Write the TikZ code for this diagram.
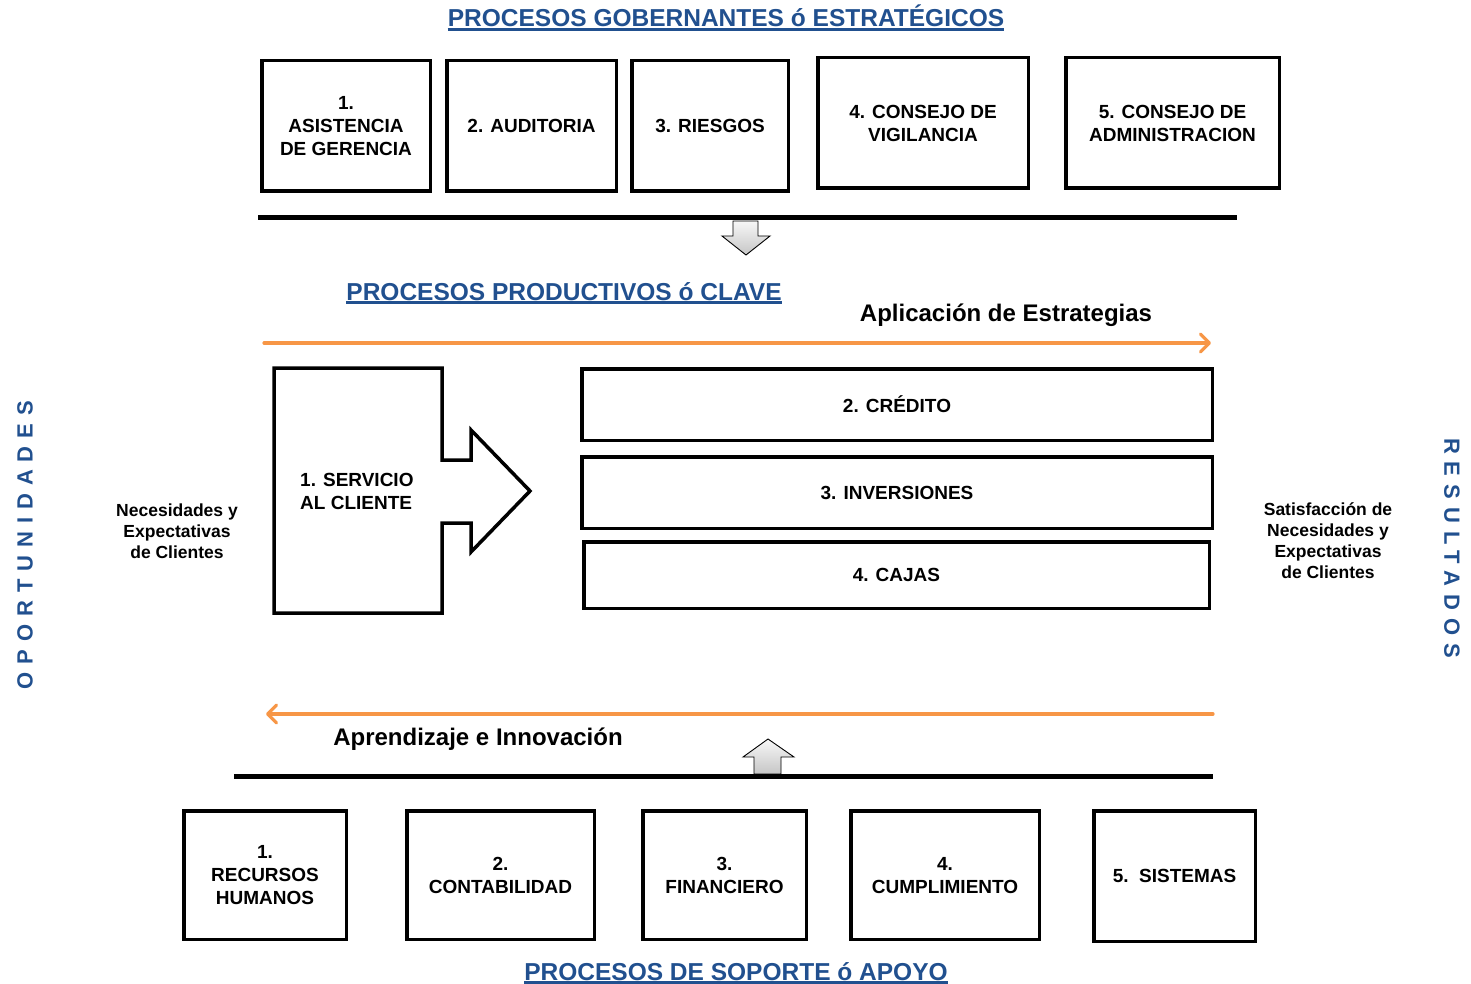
\documentclass[tikz,border=0pt]{standalone}
\usepackage{fontspec}
\setmainfont{Liberation Sans}
\usetikzlibrary{arrows.meta}
\definecolor{titleblue}{HTML}{21508F}
\definecolor{flow}{HTML}{F79646}

\begin{document}
\begin{tikzpicture}[x=1pt,y=-1pt,
  box/.style={draw, line width=3.5pt, align=center, inner sep=0pt, text depth=0pt,
    font=\fontsize{19}{23}\selectfont\bfseries},
  title/.style={text=titleblue, inner sep=0pt, anchor=base,
    font=\fontsize{24.5}{28}\selectfont\bfseries},
  titleline/.style={draw=titleblue, line width=2.6pt},
  note/.style={align=center, inner sep=0pt,
    font=\fontsize{17.5}{21}\selectfont\bfseries},
  flowlabel/.style={inner sep=0pt, anchor=base,
    font=\fontsize{24}{28}\selectfont\bfseries},
  flowarrow/.style={draw=flow, line width=3.2pt, line cap=round,
    -{Straight Barb[length=9pt,width=18pt,line join=round,line cap=round]}},
  bar/.style={line width=5pt},
  blockarrow/.style={draw=black, line width=0.9pt, line join=miter,
    top color=gray!6, bottom color=gray!45},
  side/.style={text=titleblue, inner sep=0pt,
    font=\fontsize{22}{26}\selectfont\bfseries\addfontfeature{LetterSpace=36}}
]
\useasboundingbox (0,0) rectangle (1471,984);

% ---- strategic processes ----
\node[title] (tgov) at (726,27) {PROCESOS GOBERNANTES ó ESTRATÉGICOS};
\draw[titleline] ([yshift=-2.5pt]tgov.base west) -- ([yshift=-2.5pt]tgov.base east);

\node[box, minimum width=168.5pt, minimum height=130.5pt] (g1) at (346,126) {1.\\ASISTENCIA\\DE GERENCIA};
\node[box, minimum width=169.5pt, minimum height=130.5pt] (g2) at (531.5,126) {2. AUDITORIA};
\node[box, minimum width=156.5pt, minimum height=130.5pt] (g3) at (710,126) {3. RIESGOS};
\node[box, minimum width=210.5pt, minimum height=130.5pt] (g4) at (923,123) {4. CONSEJO DE\\VIGILANCIA};
\node[box, minimum width=213.5pt, minimum height=130.5pt] (g5) at (1172.5,123) {5. CONSEJO DE\\ADMINISTRACION};

% down block arrow under the top bar
\draw[blockarrow] (733,221) -- (758,221) -- (758,236) -- (770,236) -- (746,255)
  -- (722,236) -- (733,236) -- cycle;
\draw[bar] (258,218) -- (1237,218);

% ---- core processes ----
\node[title] (tcore) at (564,300) {PROCESOS PRODUCTIVOS ó CLAVE};
\draw[titleline] ([yshift=-2.5pt]tcore.base west) -- ([yshift=-2.5pt]tcore.base east);

\node[flowlabel] (lstrat) at (1006,321) {Aplicación de Estrategias};
\coordinate (s0) at (264,343);
\coordinate (s1) at (1211,343);
\draw[flowarrow] (s0) -- (s1);

% customer service block with its arrow
\draw[line width=3.5pt, line join=miter]
  (274,368) -- (442,368) -- (442,460) -- (471,460) -- (471,430) -- (530,491)
  -- (471,552) -- (471,523) -- (442,523) -- (442,613) -- (274,613) -- cycle;
\node[align=left, anchor=west, inner sep=0pt, text depth=0pt,
  font=\fontsize{19}{23}\selectfont\bfseries] (svc) at (300,491) {1. SERVICIO\\AL CLIENTE};

\node[box, minimum width=630.5pt, minimum height=71.5pt] (c2) at (897,404.5) {2. CRÉDITO};
\node[box, minimum width=630.5pt, minimum height=71.5pt] (c3) at (897,492.5) {3. INVERSIONES};
\node[box, minimum width=625.5pt, minimum height=66.5pt] (c4) at (896.5,575) {4. CAJAS};

\node[note] (needs) at (177,531) {Necesidades y\\Expectativas\\de Clientes};
\node[note] (satis) at (1328,541) {Satisfacción de\\Necesidades y\\Expectativas\\de Clientes};

\node[side, rotate=90] (opp) at (25,545) {OPORTUNIDADES};
\node[side, rotate=-90] (res) at (1452,548) {RESULTADOS};

\coordinate (a0) at (1213,714);
\coordinate (a1) at (266,714);
\draw[flowarrow] (a0) -- (a1);
\node[flowlabel] (llearn) at (478,745) {Aprendizaje e Innovación};

% up block arrow over the bottom bar
\draw[blockarrow] (754,774) -- (754,757) -- (743,757) -- (768,739) -- (794,757)
  -- (781,757) -- (781,774) -- cycle;
\draw[bar] (234,776) -- (1213,776);

% ---- support processes ----
\node[box, minimum width=162.5pt, minimum height=128.5pt] (p1) at (265,875) {1.\\RECURSOS\\HUMANOS};
\node[box, minimum width=187.5pt, minimum height=128.5pt] (p2) at (500.5,875) {2.\\CONTABILIDAD};
\node[box, minimum width=163.5pt, minimum height=128.5pt] (p3) at (724.5,875) {3.\\FINANCIERO};
\node[box, minimum width=188.5pt, minimum height=128.5pt] (p4) at (945,875) {4.\\CUMPLIMIENTO};
\node[box, minimum width=161.5pt, minimum height=130.5pt] (p5) at (1174.5,876) {5.\ \ SISTEMAS};

\node[title] (tsup) at (736,980) {PROCESOS DE SOPORTE ó APOYO};
\draw[titleline] ([yshift=-2.5pt]tsup.base west) -- ([yshift=-2.5pt]tsup.base east);
\end{tikzpicture}
\end{document}
